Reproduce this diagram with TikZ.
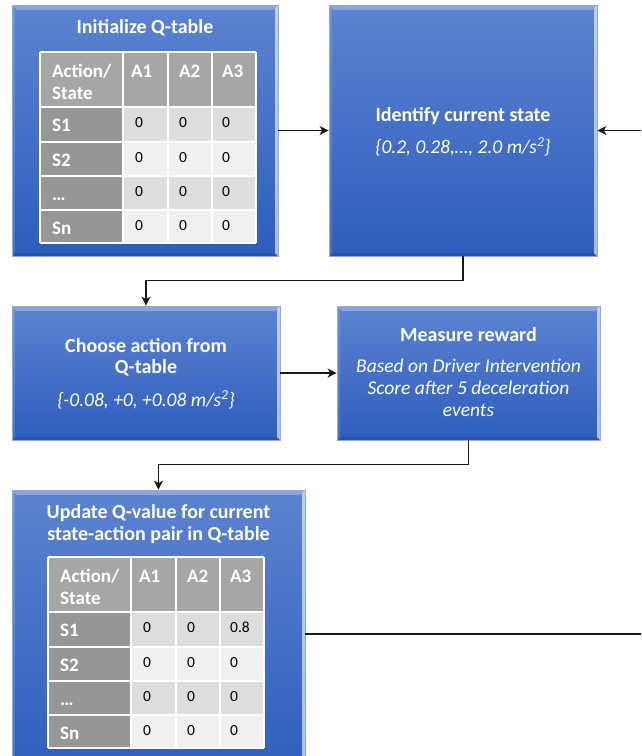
\documentclass[tikz,border=0pt]{standalone}
\usepackage{fontspec}
\setmainfont{Carlito}
\usetikzlibrary{arrows.meta,calc}

\definecolor{btop}{RGB}{92,131,208}
\definecolor{bbot}{RGB}{45,93,189}
\definecolor{bedge}{RGB}{150,168,205}
\definecolor{hdr}{RGB}{166,166,166}
\definecolor{rowlab}{RGB}{150,150,150}
\definecolor{cellA}{RGB}{221,221,221}
\definecolor{cellB}{RGB}{240,240,240}
\definecolor{conncol}{RGB}{25,25,25}

\tikzset{
  qbox/.style={draw=bedge, line width=0.7pt, top color=btop, bottom color=bbot,
    inner sep=0pt, text=white,
    path picture={
      \fill[white,opacity=0.28]
        (path picture bounding box.north west) -- (path picture bounding box.north east)
        -- ([xshift=-5pt,yshift=-5pt]path picture bounding box.north east)
        -- ([xshift=5pt,yshift=-5pt]path picture bounding box.north west) -- cycle;
      \fill[white,opacity=0.6]
        (path picture bounding box.north east) -- (path picture bounding box.south east)
        -- ([xshift=-3pt,yshift=3pt]path picture bounding box.south east)
        -- ([xshift=-3pt,yshift=-3pt]path picture bounding box.north east) -- cycle;
      \fill[white,opacity=0.12]
        (path picture bounding box.north west) -- (path picture bounding box.south west)
        -- ([xshift=3pt,yshift=3pt]path picture bounding box.south west)
        -- ([xshift=3pt,yshift=-3pt]path picture bounding box.north west) -- cycle;
      \fill[black,opacity=0.10]
        (path picture bounding box.south west) -- (path picture bounding box.south east)
        -- ([xshift=-3pt,yshift=3pt]path picture bounding box.south east)
        -- ([xshift=3pt,yshift=3pt]path picture bounding box.south west) -- cycle;
    }},
  ttl/.style={font=\fontsize{20}{21}\selectfont\bfseries, text=white, align=center, inner sep=0pt},
  sub/.style={font=\fontsize{19.5}{22}\selectfont\itshape, text=white, align=center, inner sep=0pt},
  conn/.style={draw=conncol, line width=1.7pt, -{Stealth[length=9pt,width=9pt,inset=2.5pt]}},
  cellrule/.style={draw=white, line width=1.6pt},
  htxt/.style={font=\fontsize{19}{22}\selectfont\bfseries, text=white, anchor=base west, inner sep=0pt},
  dtxt/.style={font=\fontsize{15.5}{18}\selectfont, text=black, anchor=base west, inner sep=0pt},
}

% #1 x origin, #2 y origin, #3 name prefix, #4 value in S1/A3
\newcommand{\drawqtable}[4]{%
  \begin{scope}[shift={(#1,#2)}]
    \fill[hdr] (0,0) rectangle (216,55);
    \fill[rowlab] (0,55) rectangle (83,191);
    \fill[cellA] (83,55) rectangle (216,90);
    \fill[cellB] (83,90) rectangle (216,124);
    \fill[cellA] (83,124) rectangle (216,158);
    \fill[cellB] (83,158) rectangle (216,191);
    \foreach \cx in {0,83,128,172,216} {\draw[cellrule] (\cx,0) -- (\cx,191);}
    \foreach \ry in {0,55,90,124,158,191} {\draw[cellrule] (0,\ry) -- (216,\ry);}
    \node[htxt] (#3h0a) at (12,25) {Action/};
    \node[htxt] (#3h0b) at (12,47) {State};
    \node[htxt] (#3h1) at (91,25) {A1};
    \node[htxt] (#3h2) at (139,25) {A2};
    \node[htxt] (#3h3) at (182,25) {A3};
    \node[htxt] (#3r1) at (12,79) {S1};
    \node[htxt] (#3r2) at (12,114) {S2};
    \node[htxt] (#3r3) at (12,148) {\ldots};
    \node[htxt] (#3r4) at (12,182) {Sn};
    \node[dtxt] (#3v11) at (95,75) {0};
    \node[dtxt] (#3v12) at (139,75) {0};
    \node[dtxt] (#3v13) at (182,75) {#4};
    \node[dtxt] (#3v21) at (95,110) {0};
    \node[dtxt] (#3v22) at (139,110) {0};
    \node[dtxt] (#3v23) at (182,110) {0};
    \node[dtxt] (#3v31) at (95,144) {0};
    \node[dtxt] (#3v32) at (139,144) {0};
    \node[dtxt] (#3v33) at (182,144) {0};
    \node[dtxt] (#3v41) at (95,178) {0};
    \node[dtxt] (#3v42) at (139,178) {0};
    \node[dtxt] (#3v43) at (182,178) {0};
  \end{scope}%
}

\begin{document}
\begin{tikzpicture}[x=1pt, y=-1pt]
  \useasboundingbox (0,0) rectangle (641,756);
  \clip (0,0) rectangle (641,756);
  \fill[white] (0,0) rectangle (641,756);

  % boxes
  \node[qbox, minimum width=266pt, minimum height=251pt] (init) at (145,130.5) {};
  \node[qbox, minimum width=268pt, minimum height=251pt] (ident) at (463,130.5) {};
  \node[qbox, minimum width=268pt, minimum height=134pt] (choose) at (146,373) {};
  \node[qbox, minimum width=263pt, minimum height=134pt] (measure) at (468.5,373) {};
  \node[qbox, minimum width=293pt, minimum height=288pt] (update) at (158.5,634) {};

  % texts
  \node[ttl] (initT) at (145,28) {Initialize Q-table};
  \node[ttl] (identT) at (463,116) {Identify current state};
  \node[sub] (identS) at (463,147) {\{0.2, 0.28,\ldots, 2.0 m/s\textsuperscript{2}\}};
  \node[ttl] (chooseT) at (146,357) {Choose action from\\Q-table};
  \node[sub] (chooseS) at (146,400) {\{-0.08, +0, +0.08 m/s\textsuperscript{2}\}};
  \node[ttl] (measureT) at (468.5,335) {Measure reward};
  \node[sub] (measureS) at (468.5,388) {Based on Driver Intervention\\Score after 5 deceleration\\events};
  \node[ttl, font=\fontsize{20}{22}\selectfont\bfseries] (updateT) at (158.5,524) {Update Q-value for current\\state-action pair in Q-table};

  % tables
  \drawqtable{40}{52}{ta}{0}
  \drawqtable{48}{557}{tb}{0.8}

  % connectors
  \draw[conn] (init) -- (ident);
  \draw[conn] (ident.south) -- ++(0,24) -| (choose.north);
  \draw[conn] (choose) -- (measure);
  \draw[conn] (measure.south) -- ++(0,24) -| (update.north);
  \draw[conn] (update.east) -- ++(360,0) |- (ident.east);
\end{tikzpicture}
\end{document}
